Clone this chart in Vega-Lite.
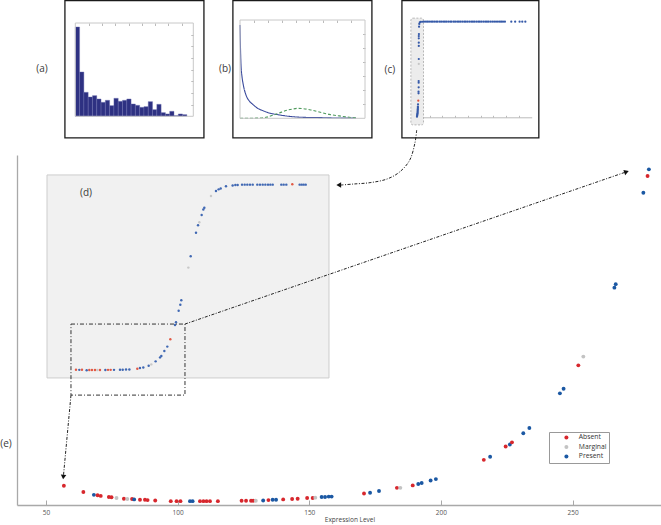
{
  "$schema": "https://vega.github.io/schema/vega-lite/v6.json",
  "width": 661,
  "height": 525,
  "autosize": "none",
  "padding": 0,
  "background": "white",
  "config": {"view": {"stroke": null}, "font": "Open Sans", "axis": {"grid": false}, "scale": {"nice": false}},
  "datasets": {
    "boxes": [
      {"x0": 57.2, "x1": 110.0, "y0": 104.9, "y1": 144.1},
      {"x0": 121.0, "x1": 173.8, "y0": 104.9, "y1": 144.1},
      {"x0": 185.2, "x1": 237.2, "y0": 104.9, "y1": 144.1}
    ],
    "dbox": [{"x0": 50.4, "x1": 157.5, "y0": 36.3, "y1": 94.3}],
    "cbox": [{"x0": 188.6, "x1": 193.4, "y0": 108.6, "y1": 139.1}],
    "hist": [
      {"b0": 0, "b1": 1, "count": 268}, {"b0": 1, "b1": 2, "count": 133}, {"b0": 2, "b1": 3, "count": 72},
      {"b0": 3, "b1": 4, "count": 58}, {"b0": 4, "b1": 5, "count": 62}, {"b0": 5, "b1": 6, "count": 52},
      {"b0": 6, "b1": 7, "count": 42}, {"b0": 7, "b1": 8, "count": 48}, {"b0": 8, "b1": 9, "count": 32},
      {"b0": 9, "b1": 10, "count": 54}, {"b0": 10, "b1": 11, "count": 45}, {"b0": 11, "b1": 12, "count": 48},
      {"b0": 12, "b1": 13, "count": 52}, {"b0": 13, "b1": 14, "count": 37}, {"b0": 14, "b1": 15, "count": 33},
      {"b0": 15, "b1": 16, "count": 27}, {"b0": 16, "b1": 17, "count": 29}, {"b0": 17, "b1": 18, "count": 44},
      {"b0": 18, "b1": 19, "count": 20}, {"b0": 19, "b1": 20, "count": 36}, {"b0": 20, "b1": 21, "count": 11},
      {"b0": 21, "b1": 22, "count": 7}, {"b0": 22, "b1": 23, "count": 15}, {"b0": 23, "b1": 24, "count": 2},
      {"b0": 24, "b1": 25, "count": 7}, {"b0": 25, "b1": 26, "count": 5}
    ],
    "curves": [
      {"series": "fit", "x": 0, "y": 6.64}, {"series": "fit", "x": 0.024, "y": 5.46}, {"series": "fit", "x": 0.072, "y": 3.8},
      {"series": "fit", "x": 0.144, "y": 2.97}, {"series": "fit", "x": 0.24, "y": 2.37}, {"series": "fit", "x": 0.43, "y": 1.66},
      {"series": "fit", "x": 0.67, "y": 1.23}, {"series": "fit", "x": 0.91, "y": 1.0}, {"series": "fit", "x": 1.27, "y": 0.71},
      {"series": "fit", "x": 1.63, "y": 0.55}, {"series": "fit", "x": 2.11, "y": 0.38}, {"series": "fit", "x": 2.83, "y": 0.24},
      {"series": "fit", "x": 3.55, "y": 0.14}, {"series": "fit", "x": 4.51, "y": 0.07}, {"series": "fit", "x": 5.71, "y": 0.05},
      {"series": "fit", "x": 6.91, "y": 0.02}, {"series": "fit", "x": 8.35, "y": 0.01},
      {"series": "bg", "x": 0, "y": 0}, {"series": "bg", "x": 1.15, "y": 0.01}, {"series": "bg", "x": 1.87, "y": 0.07},
      {"series": "bg", "x": 2.35, "y": 0.21}, {"series": "bg", "x": 2.83, "y": 0.38}, {"series": "bg", "x": 3.31, "y": 0.55},
      {"series": "bg", "x": 3.79, "y": 0.66}, {"series": "bg", "x": 4.15, "y": 0.71}, {"series": "bg", "x": 4.51, "y": 0.69},
      {"series": "bg", "x": 5.11, "y": 0.59}, {"series": "bg", "x": 5.71, "y": 0.45}, {"series": "bg", "x": 6.43, "y": 0.28},
      {"series": "bg", "x": 7.15, "y": 0.17}, {"series": "bg", "x": 7.87, "y": 0.07}, {"series": "bg", "x": 8.47, "y": 0.02}
    ],
    "cpts": [
      {"x": 0.0, "y": 0.003, "s": "Present"}, {"x": 0.01, "y": 0.012, "s": "Present"}, {"x": 0.02, "y": 0.021, "s": "Present"},
      {"x": 0.03, "y": 0.03, "s": "Present"}, {"x": 0.04, "y": 0.038, "s": "Present"}, {"x": 0.05, "y": 0.05, "s": "Present"},
      {"x": 0.05, "y": 0.062, "s": "Present"}, {"x": 0.06, "y": 0.073, "s": "Present"}, {"x": 0.06, "y": 0.083, "s": "Present"},
      {"x": 0.07, "y": 0.095, "s": "Present"}, {"x": 0.07, "y": 0.107, "s": "Present"}, {"x": 0.08, "y": 0.131, "s": "Present"},
      {"x": 0.1, "y": 0.169, "s": "Absent"}, {"x": 0.12, "y": 0.245, "s": "Present"}, {"x": 0.12, "y": 0.262, "s": "Present"},
      {"x": 0.13, "y": 0.307, "s": "Present"}, {"x": 0.13, "y": 0.356, "s": "Present"}, {"x": 0.13, "y": 0.373, "s": "Present"},
      {"x": 0.14, "y": 0.55, "s": "Marginal"}, {"x": 0.14, "y": 0.601, "s": "Present"}, {"x": 0.14, "y": 0.736, "s": "Present"},
      {"x": 0.14, "y": 0.77, "s": "Present"}, {"x": 0.14, "y": 0.815, "s": "Present"}, {"x": 0.14, "y": 0.839, "s": "Present"},
      {"x": 0.15, "y": 0.86, "s": "Present"}, {"x": 0.16, "y": 0.936, "s": "Present"}, {"x": 0.18, "y": 0.964, "s": "Present"},
      {"x": 0.22, "y": 0.981, "s": "Present"}, {"x": 0.3, "y": 0.986, "s": "Present"}, {"x": 0.42, "y": 0.987, "s": "Present"},
      {"x": 0.55, "y": 0.988, "s": "Present"}, {"x": 0.7, "y": 0.988, "s": "Present"}, {"x": 0.82, "y": 0.988, "s": "Present"},
      {"x": 0.95, "y": 0.988, "s": "Present"}, {"x": 1.1, "y": 0.988, "s": "Present"}, {"x": 1.22, "y": 0.988, "s": "Present"},
      {"x": 1.35, "y": 0.988, "s": "Present"}, {"x": 1.5, "y": 0.988, "s": "Present"}, {"x": 1.62, "y": 0.988, "s": "Present"},
      {"x": 1.78, "y": 0.988, "s": "Present"}, {"x": 1.9, "y": 0.988, "s": "Present"}, {"x": 2.05, "y": 0.988, "s": "Present"},
      {"x": 2.18, "y": 0.988, "s": "Present"}, {"x": 2.3, "y": 0.988, "s": "Present"}, {"x": 2.45, "y": 0.988, "s": "Present"},
      {"x": 2.6, "y": 0.988, "s": "Present"}, {"x": 2.72, "y": 0.988, "s": "Present"}, {"x": 2.88, "y": 0.988, "s": "Present"},
      {"x": 3.0, "y": 0.988, "s": "Present"}, {"x": 3.15, "y": 0.988, "s": "Present"}, {"x": 3.28, "y": 0.988, "s": "Present"},
      {"x": 3.4, "y": 0.988, "s": "Present"}, {"x": 3.55, "y": 0.988, "s": "Present"}, {"x": 3.7, "y": 0.988, "s": "Present"},
      {"x": 3.82, "y": 0.988, "s": "Present"}, {"x": 3.95, "y": 0.988, "s": "Present"}, {"x": 4.1, "y": 0.988, "s": "Present"},
      {"x": 4.25, "y": 0.988, "s": "Present"}, {"x": 4.38, "y": 0.988, "s": "Present"}, {"x": 4.5, "y": 0.988, "s": "Present"},
      {"x": 4.65, "y": 0.988, "s": "Present"}, {"x": 4.8, "y": 0.988, "s": "Present"}, {"x": 4.92, "y": 0.988, "s": "Present"},
      {"x": 5.05, "y": 0.988, "s": "Present"}, {"x": 5.2, "y": 0.988, "s": "Present"}, {"x": 5.35, "y": 0.988, "s": "Present"},
      {"x": 5.48, "y": 0.988, "s": "Present"}, {"x": 5.6, "y": 0.988, "s": "Present"}, {"x": 5.75, "y": 0.988, "s": "Present"},
      {"x": 5.9, "y": 0.988, "s": "Present"}, {"x": 6.05, "y": 0.988, "s": "Present"}, {"x": 6.2, "y": 0.988, "s": "Present"},
      {"x": 6.35, "y": 0.988, "s": "Present"}, {"x": 6.5, "y": 0.988, "s": "Present"}, {"x": 6.62, "y": 0.988, "s": "Present"},
      {"x": 6.75, "y": 0.988, "s": "Present"}, {"x": 6.9, "y": 0.988, "s": "Present"}, {"x": 7.4, "y": 0.988, "s": "Present"},
      {"x": 7.7, "y": 0.988, "s": "Present"}, {"x": 8.05, "y": 0.988, "s": "Present"}, {"x": 8.26, "y": 0.988, "s": "Present"},
      {"x": 8.5, "y": 0.988, "s": "Present"}
    ],
    "dpts": [
      {"x": 26.4, "y": 0.007, "s": "Absent"}, {"x": 30.8, "y": 0.006, "s": "Present"}, {"x": 34.3, "y": 0.007, "s": "Absent"},
      {"x": 40.5, "y": 0.004, "s": "Present"}, {"x": 44.0, "y": 0.005, "s": "Absent"}, {"x": 47.5, "y": 0.005, "s": "Absent"},
      {"x": 51.5, "y": 0.005, "s": "Absent"}, {"x": 54.6, "y": 0.005, "s": "Marginal"}, {"x": 58.1, "y": 0.005, "s": "Absent"},
      {"x": 65.2, "y": 0.005, "s": "Present"}, {"x": 68.7, "y": 0.006, "s": "Absent"}, {"x": 72.2, "y": 0.006, "s": "Absent"},
      {"x": 76.6, "y": 0.006, "s": "Present"}, {"x": 84.5, "y": 0.007, "s": "Present"}, {"x": 88.1, "y": 0.007, "s": "Present"},
      {"x": 92.5, "y": 0.008, "s": "Present"}, {"x": 96.9, "y": 0.008, "s": "Present"}, {"x": 107.4, "y": 0.012, "s": "Absent"},
      {"x": 110.9, "y": 0.016, "s": "Present"}, {"x": 115.3, "y": 0.019, "s": "Present"}, {"x": 122.4, "y": 0.028, "s": "Present"},
      {"x": 125.9, "y": 0.035, "s": "Marginal"}, {"x": 131.6, "y": 0.051, "s": "Present"}, {"x": 137.4, "y": 0.072, "s": "Present"},
      {"x": 139.1, "y": 0.079, "s": "Present"}, {"x": 143.1, "y": 0.106, "s": "Present"}, {"x": 147.0, "y": 0.129, "s": "Present"},
      {"x": 151.0, "y": 0.168, "s": "Absent"}, {"x": 157.2, "y": 0.243, "s": "Present"}, {"x": 158.5, "y": 0.258, "s": "Present"},
      {"x": 162.0, "y": 0.319, "s": "Present"}, {"x": 164.2, "y": 0.351, "s": "Present"}, {"x": 165.5, "y": 0.374, "s": "Present"},
      {"x": 174.8, "y": 0.547, "s": "Marginal"}, {"x": 177.9, "y": 0.607, "s": "Present"}, {"x": 184.9, "y": 0.732, "s": "Present"},
      {"x": 187.6, "y": 0.771, "s": "Present"}, {"x": 189.3, "y": 0.787, "s": "Marginal"}, {"x": 192.4, "y": 0.825, "s": "Present"},
      {"x": 194.6, "y": 0.854, "s": "Present"}, {"x": 195.9, "y": 0.864, "s": "Present"}, {"x": 204.7, "y": 0.926, "s": "Marginal"},
      {"x": 211.3, "y": 0.952, "s": "Present"}, {"x": 214.8, "y": 0.961, "s": "Present"}, {"x": 217.5, "y": 0.966, "s": "Present"},
      {"x": 224.5, "y": 0.977, "s": "Present"}, {"x": 233.3, "y": 0.982, "s": "Present"}, {"x": 236.9, "y": 0.984, "s": "Present"},
      {"x": 239.9, "y": 0.984, "s": "Present"}, {"x": 245.7, "y": 0.986, "s": "Present"}, {"x": 249.2, "y": 0.986, "s": "Present"},
      {"x": 252.7, "y": 0.986, "s": "Present"}, {"x": 256.2, "y": 0.986, "s": "Present"}, {"x": 259.8, "y": 0.986, "s": "Present"},
      {"x": 265.9, "y": 0.986, "s": "Present"}, {"x": 269.4, "y": 0.986, "s": "Present"}, {"x": 273.0, "y": 0.986, "s": "Present"},
      {"x": 276.5, "y": 0.986, "s": "Present"}, {"x": 280.0, "y": 0.986, "s": "Present"}, {"x": 283.1, "y": 0.986, "s": "Present"},
      {"x": 286.2, "y": 0.986, "s": "Present"}, {"x": 297.6, "y": 0.986, "s": "Present"}, {"x": 300.7, "y": 0.986, "s": "Present"},
      {"x": 304.2, "y": 0.986, "s": "Present"}, {"x": 312.1, "y": 0.988, "s": "Absent"}, {"x": 321.8, "y": 0.986, "s": "Present"},
      {"x": 324.5, "y": 0.986, "s": "Present"}, {"x": 327.1, "y": 0.986, "s": "Present"}, {"x": 329.8, "y": 0.986, "s": "Present"}
    ],
    "expr": [
      {"x": 56.8, "y": 5.5, "status": "Absent"}, {"x": 64.2, "y": 3.7, "status": "Absent"}, {"x": 68.2, "y": 2.9, "status": "Present"},
      {"x": 69.6, "y": 2.8, "status": "Absent"}, {"x": 70.8, "y": 2.6, "status": "Absent"}, {"x": 73.9, "y": 2.3, "status": "Absent"},
      {"x": 74.9, "y": 2.2, "status": "Absent"}, {"x": 76.8, "y": 2.0, "status": "Marginal"}, {"x": 79.6, "y": 1.8, "status": "Absent"},
      {"x": 80.9, "y": 1.7, "status": "Marginal"}, {"x": 82.7, "y": 1.7, "status": "Absent"}, {"x": 83.5, "y": 1.6, "status": "Present"},
      {"x": 85.7, "y": 1.5, "status": "Absent"}, {"x": 87.6, "y": 1.5, "status": "Absent"}, {"x": 88.6, "y": 1.4, "status": "Absent"},
      {"x": 91.5, "y": 1.3, "status": "Absent"}, {"x": 97.4, "y": 1.1, "status": "Absent"}, {"x": 99.6, "y": 1.1, "status": "Absent"},
      {"x": 101.1, "y": 1.1, "status": "Absent"}, {"x": 104.7, "y": 1.1, "status": "Present"}, {"x": 105.7, "y": 1.1, "status": "Present"},
      {"x": 108.5, "y": 1.1, "status": "Absent"}, {"x": 109.8, "y": 1.1, "status": "Absent"}, {"x": 111.0, "y": 1.1, "status": "Absent"},
      {"x": 112.3, "y": 1.1, "status": "Absent"}, {"x": 115.3, "y": 1.1, "status": "Absent"}, {"x": 124.3, "y": 1.2, "status": "Absent"},
      {"x": 126.0, "y": 1.2, "status": "Absent"}, {"x": 127.9, "y": 1.2, "status": "Absent"}, {"x": 128.7, "y": 1.2, "status": "Absent"},
      {"x": 129.7, "y": 1.2, "status": "Marginal"}, {"x": 132.5, "y": 1.3, "status": "Present"}, {"x": 134.5, "y": 1.4, "status": "Absent"},
      {"x": 136.1, "y": 1.5, "status": "Present"}, {"x": 137.4, "y": 1.5, "status": "Present"}, {"x": 140.1, "y": 1.6, "status": "Absent"},
      {"x": 143.5, "y": 1.7, "status": "Absent"}, {"x": 145.6, "y": 1.8, "status": "Absent"}, {"x": 149.2, "y": 2.0, "status": "Absent"},
      {"x": 151.3, "y": 2.0, "status": "Absent"}, {"x": 152.3, "y": 2.1, "status": "Marginal"}, {"x": 154.7, "y": 2.3, "status": "Present"},
      {"x": 156.0, "y": 2.3, "status": "Present"}, {"x": 157.4, "y": 2.4, "status": "Present"}, {"x": 158.5, "y": 2.4, "status": "Present"},
      {"x": 170.8, "y": 3.3, "status": "Absent"}, {"x": 173.1, "y": 3.5, "status": "Present"}, {"x": 176.5, "y": 4.0, "status": "Present"},
      {"x": 183.3, "y": 4.9, "status": "Absent"}, {"x": 184.6, "y": 4.9, "status": "Marginal"}, {"x": 189.3, "y": 5.6, "status": "Absent"},
      {"x": 191.4, "y": 6.0, "status": "Present"}, {"x": 192.7, "y": 6.3, "status": "Present"}, {"x": 196.1, "y": 7.0, "status": "Present"},
      {"x": 198.1, "y": 7.4, "status": "Present"}, {"x": 216.3, "y": 12.9, "status": "Absent"}, {"x": 218.7, "y": 13.8, "status": "Present"},
      {"x": 224.6, "y": 16.7, "status": "Absent"}, {"x": 226.2, "y": 17.3, "status": "Present"}, {"x": 227.0, "y": 17.9, "status": "Absent"},
      {"x": 231.3, "y": 20.5, "status": "Present"}, {"x": 233.6, "y": 22.0, "status": "Present"}, {"x": 245.2, "y": 31.9, "status": "Present"},
      {"x": 246.6, "y": 33.2, "status": "Present"}, {"x": 252.2, "y": 39.9, "status": "Absent"}, {"x": 254.1, "y": 42.4, "status": "Marginal"},
      {"x": 265.9, "y": 62.1, "status": "Present"}, {"x": 266.4, "y": 63.1, "status": "Present"}, {"x": 276.9, "y": 89.2, "status": "Present"},
      {"x": 278.5, "y": 94.0, "status": "Absent"}, {"x": 279.0, "y": 95.9, "status": "Present"}
    ],
    "labels": [
      {"label": "(a)", "x": 48.5, "y": 124.6}, {"label": "(b)", "x": 118.0, "y": 124.6},
      {"label": "(c)", "x": 180.6, "y": 124.3}, {"label": "(d)", "x": 65.2, "y": 89.1},
      {"label": "(e)", "x": 34.8, "y": 17.4}
    ],
    "zoomrect": [{"x0": 59.5, "x1": 102.8, "y0": 31.4, "y1": 51.7}],
    "arrows": [
      {"x": 102.8, "y": 51.7, "x2": 270.5, "y2": 95.2},
      {"x": 59.5, "y": 31.4, "x2": 56.6, "y2": 8.0}
    ],
    "curve": [
      {"i": 0, "x": 190.8, "y": 107.1}, {"i": 1, "x": 190.1, "y": 103.3}, {"i": 2, "x": 188.2, "y": 98.6},
      {"i": 3, "x": 184.4, "y": 95.2}, {"i": 4, "x": 179.4, "y": 93.1}, {"i": 5, "x": 173.1, "y": 92.1},
      {"i": 6, "x": 166.7, "y": 91.7}, {"i": 7, "x": 161.7, "y": 91.4}
    ],
    "head1": [{"x": 161.2, "y": 91.4}],
    "head2": [{"x": 270.5, "y": 95.2}],
    "head3": [{"x": 56.6, "y": 8.0}]
  },
  "layer": [
    {
      "layer": [
        {
          "data": {"name": "boxes"},
          "mark": {"type": "rect", "fill": "white", "fillOpacity": 0, "stroke": "#1a1a1a", "strokeWidth": 1.3},
          "encoding": {
            "x": {"field": "x0", "type": "quantitative", "scale": {"domain": [39, 283.6], "range": [17, 661], "nice": false}, "axis": null},
            "x2": {"field": "x1"},
            "y": {"field": "y0", "type": "quantitative", "scale": {"domain": [0, 100], "range": [505, 155], "nice": false}, "axis": null},
            "y2": {"field": "y1"}
          }
        },
        {
          "data": {"name": "dbox"},
          "mark": {"type": "rect", "fill": "#f1f1f1", "stroke": "#cdcdcd", "strokeWidth": 1},
          "encoding": {
            "x": {"field": "x0", "type": "quantitative", "scale": {"domain": [39, 283.6], "range": [17, 661], "nice": false}, "axis": null},
            "x2": {"field": "x1"},
            "y": {"field": "y0", "type": "quantitative", "scale": {"domain": [0, 100], "range": [505, 155], "nice": false}, "axis": null},
            "y2": {"field": "y1"}
          }
        },
        {
          "data": {"name": "cbox"},
          "mark": {"type": "rect", "fill": "#ececec", "stroke": "#a8a8a8", "strokeWidth": 0.8, "strokeDash": [2, 1.5], "cornerRadius": 2},
          "encoding": {
            "x": {"field": "x0", "type": "quantitative", "scale": {"domain": [39, 283.6], "range": [17, 661], "nice": false}, "axis": null},
            "x2": {"field": "x1"},
            "y": {"field": "y0", "type": "quantitative", "scale": {"domain": [0, 100], "range": [505, 155], "nice": false}, "axis": null},
            "y2": {"field": "y1"}
          }
        }
      ]
    },
    {
      "layer": [
        {
          "data": {"name": "hist"},
          "mark": {"type": "rect", "fill": "#2e3182", "stroke": "#6d70b0", "strokeWidth": 0.4},
          "encoding": {
            "x": {"field": "b0", "type": "quantitative", "scale": {"domain": [0, 27.5], "range": [75.3, 193.3], "nice": false},
                  "axis": {"orient": "top", "offset": -23, "domain": false, "labels": false, "ticks": true, "tickSize": -2.5, "tickColor": "#bbbbbb", "values": [3.1, 6.2, 9.3, 12.4, 15.5, 18.6, 21.7, 24.8], "title": null}},
            "x2": {"field": "b1"},
            "y": {"field": "count", "type": "quantitative", "scale": {"domain": [0, 280], "range": [116.3, 23], "nice": false},
                  "axis": {"orient": "right", "offset": -467.7, "domain": false, "labels": false, "ticks": true, "tickSize": -2.5, "tickColor": "#bbbbbb", "values": [35, 70, 105, 140, 175, 210, 245], "title": null}},
            "y2": {"datum": 0}
          }
        },
        {
          "data": {"values": [{"x0": 0, "x1": 27.5, "y0": 0, "y1": 280}]},
          "mark": {"type": "rect", "fill": "white", "fillOpacity": 0, "stroke": "#c8c8c8", "strokeWidth": 1},
          "encoding": {
            "x": {"field": "x0", "type": "quantitative"},
            "x2": {"field": "x1"},
            "y": {"field": "y0", "type": "quantitative"},
            "y2": {"field": "y1"}
          }
        }
      ]
    },
    {
      "layer": [
        {
          "data": {"name": "curves"},
          "mark": {"type": "line", "interpolate": "monotone", "strokeWidth": 1.1},
          "encoding": {
            "x": {"field": "x", "type": "quantitative", "scale": {"domain": [0, 9], "range": [240, 365], "nice": false},
                  "axis": {"orient": "top", "offset": -20, "domain": false, "labels": false, "ticks": true, "tickSize": -2.5, "tickColor": "#bbbbbb", "values": [1, 2, 3, 4, 5, 6, 7, 8], "title": null}},
            "y": {"field": "y", "type": "quantitative", "scale": {"domain": [0, 7], "range": [118.3, 20], "nice": false},
                  "axis": {"orient": "right", "offset": -296, "domain": false, "labels": false, "ticks": true, "tickSize": -2.5, "tickColor": "#bbbbbb", "values": [1, 2, 3, 4, 5, 6], "title": null}},
            "color": {"field": "series", "type": "nominal", "scale": {"domain": ["fit", "bg"], "range": ["#3a4a9c", "#4f9a5d"]}, "legend": null},
            "strokeDash": {"field": "series", "type": "nominal", "scale": {"domain": ["fit", "bg"], "range": [[1, 0], [3, 2]]}, "legend": null}
          }
        },
        {
          "data": {"values": [{"x0": 0, "x1": 9, "y0": 0, "y1": 7}]},
          "mark": {"type": "rect", "fill": "white", "fillOpacity": 0, "stroke": "#c8c8c8", "strokeWidth": 1},
          "encoding": {
            "x": {"field": "x0", "type": "quantitative"},
            "x2": {"field": "x1"},
            "y": {"field": "y0", "type": "quantitative"},
            "y2": {"field": "y1"}
          }
        }
      ]
    },
    {
      "data": {"name": "cpts"},
      "mark": {"type": "circle", "size": 5, "opacity": 1},
      "encoding": {
        "x": {"field": "x", "type": "quantitative", "scale": {"domain": [0, 9], "range": [417, 531.7], "nice": false},
              "axis": {"orient": "bottom", "offset": -407.7, "domainColor": "#bbbbbb", "labels": false, "ticks": true, "tickSize": -2, "tickColor": "#bbbbbb", "values": [1, 2, 3, 4, 5, 6, 7, 8], "title": null}},
        "y": {"field": "y", "type": "quantitative", "scale": {"domain": [0, 1], "range": [117, 20.5], "nice": false},
              "axis": {"orient": "left", "offset": -417, "domainColor": "#d0d0d0", "labels": false, "ticks": false, "title": null}},
        "color": {"field": "s", "type": "nominal", "scale": {"domain": ["Absent", "Marginal", "Present"], "range": ["#e0533f", "#c6c6c6", "#3559a8"]}, "legend": null}
      }
    },
    {
      "data": {"name": "dpts"},
      "mark": {"type": "circle", "size": 6, "opacity": 1},
      "encoding": {
        "x": {"field": "x", "type": "quantitative", "scale": {"domain": [0, 350], "range": [56, 321], "nice": false},
              "axis": {"orient": "bottom", "offset": -154, "domainColor": "#aaaaaa", "labels": false, "ticks": true, "tickSize": -2.5, "tickColor": "#aaaaaa", "values": [50, 100, 150, 200, 250, 300, 350], "title": null}},
        "y": {"field": "y", "type": "quantitative", "scale": {"domain": [0, 1], "range": [371, 182], "nice": false},
              "axis": {"orient": "left", "offset": -56, "domainColor": "#aaaaaa", "labels": false, "ticks": true, "tickSize": -2.5, "tickColor": "#aaaaaa", "values": [0.1, 0.2, 0.3, 0.4, 0.5, 0.6, 0.7, 0.8, 0.9, 1.0], "title": null}},
        "color": {"field": "s", "type": "nominal", "scale": {"domain": ["Absent", "Marginal", "Present"], "range": ["#e25a45", "#c8c8c8", "#4068b3"]}, "legend": null}
      }
    },
    {
      "layer": [
        {
          "data": {"name": "zoomrect"},
          "mark": {"type": "rect", "fill": "white", "fillOpacity": 0, "stroke": "#333333", "strokeWidth": 1, "strokeDash": [4, 2, 1, 2]},
          "encoding": {
            "x": {"field": "x0", "type": "quantitative", "scale": {"domain": [39, 283.6], "range": [17, 661], "nice": false}},
            "x2": {"field": "x1"},
            "y": {"field": "y0", "type": "quantitative", "scale": {"domain": [0, 100], "range": [505, 155], "nice": false}},
            "y2": {"field": "y1"}
          }
        },
        {
          "data": {"name": "arrows"},
          "mark": {"type": "rule", "stroke": "#222222", "strokeWidth": 1, "strokeDash": [3, 1.5, 1, 1.5]},
          "encoding": {
            "x": {"field": "x", "type": "quantitative"},
            "y": {"field": "y", "type": "quantitative"},
            "x2": {"field": "x2"},
            "y2": {"field": "y2"}
          }
        },
        {
          "data": {"name": "curve"},
          "mark": {"type": "line", "interpolate": "cardinal", "stroke": "#222222", "strokeWidth": 1, "strokeDash": [3, 1.5, 1, 1.5]},
          "encoding": {
            "x": {"field": "x", "type": "quantitative"},
            "y": {"field": "y", "type": "quantitative"},
            "order": {"field": "i", "type": "quantitative"}
          }
        },
        {
          "data": {"name": "head1"},
          "mark": {"type": "point", "shape": "triangle-left", "filled": true, "size": 30, "color": "#111111", "opacity": 1},
          "encoding": {"x": {"field": "x", "type": "quantitative"}, "y": {"field": "y", "type": "quantitative"}}
        },
        {
          "data": {"name": "head2"},
          "mark": {"type": "point", "shape": "triangle-right", "angle": -19, "filled": true, "size": 30, "color": "#111111", "opacity": 1},
          "encoding": {"x": {"field": "x", "type": "quantitative"}, "y": {"field": "y", "type": "quantitative"}}
        },
        {
          "data": {"name": "head3"},
          "mark": {"type": "point", "shape": "triangle-down", "angle": 5.5, "filled": true, "size": 30, "color": "#111111", "opacity": 1},
          "encoding": {"x": {"field": "x", "type": "quantitative"}, "y": {"field": "y", "type": "quantitative"}}
        },
        {
          "data": {"name": "labels"},
          "mark": {"type": "text", "fontSize": 10, "color": "#3a3a3a", "align": "center", "baseline": "middle"},
          "encoding": {
            "x": {"field": "x", "type": "quantitative"},
            "y": {"field": "y", "type": "quantitative"},
            "text": {"field": "label", "type": "nominal"}
          }
        },
        {
          "data": {"name": "expr"},
          "mark": {"type": "circle", "size": 15, "opacity": 1},
          "encoding": {
            "x": {"field": "x", "type": "quantitative",
                  "axis": {"orient": "bottom", "offset": -20, "values": [50, 100, 150, 200, 250], "domainColor": "#a9a9a9", "domainWidth": 1.3, "tickColor": "#a9a9a9", "tickWidth": 1, "tickSize": -5, "labelPadding": 9, "labelFontSize": 6.5, "labelColor": "#555555", "title": "Expression Level", "titleFontSize": 6.5, "titleFontWeight": "normal", "titleColor": "#444444", "titlePadding": 1, "titleX": 349.5}},
            "y": {"field": "y", "type": "quantitative",
                  "axis": {"orient": "left", "offset": -17, "domainColor": "#a9a9a9", "domainWidth": 1.3, "ticks": false, "labels": false, "title": null}},
            "color": {"field": "status", "type": "nominal", "scale": {"domain": ["Absent", "Marginal", "Present"], "range": ["#d7272d", "#c3c3c3", "#1b58a3"]},
                      "legend": {"orient": "none", "legendX": 549, "legendY": 432, "title": null, "padding": 2, "strokeColor": "#999999", "fillColor": "white", "labelFontSize": 6.8, "labelColor": "#333333", "symbolSize": 16, "symbolType": "circle", "symbolOffset": 12, "labelOffset": 9, "rowPadding": 1.5}}
          }
        }
      ]
    }
  ],
  "resolve": {"scale": {"x": "independent", "y": "independent", "color": "independent"}}
}
